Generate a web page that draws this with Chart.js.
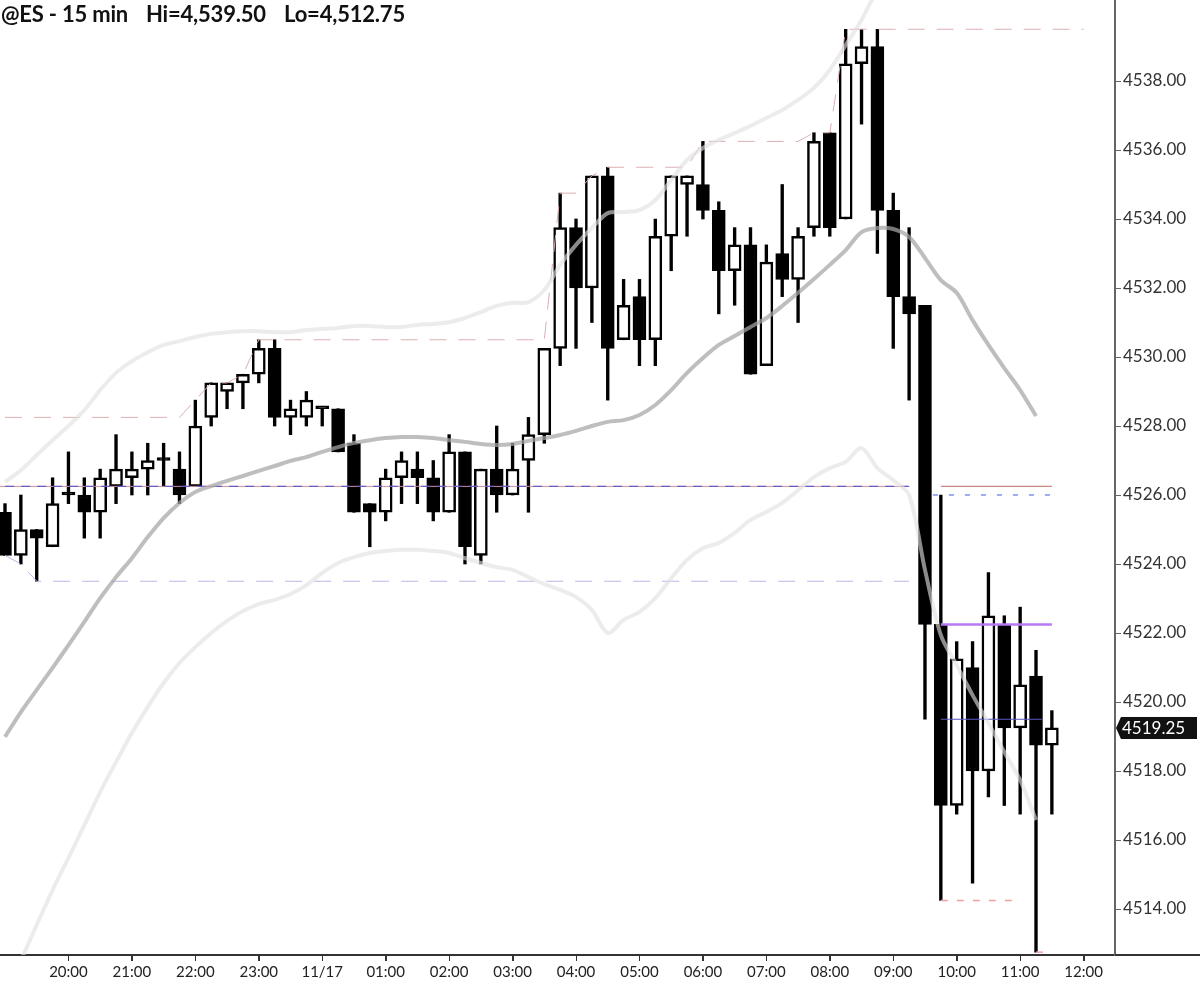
<!DOCTYPE html>
<html><head><meta charset="utf-8">
<script src="https://cdn.jsdelivr.net/npm/chart.js@4.4.0/dist/chart.umd.min.js"></script>
<style>
html,body{margin:0;padding:0;background:#fff;}
#wrap{position:relative;width:1200px;height:986px;overflow:hidden;}
.t{position:absolute;top:0px;font:bold 22px Lato, sans-serif;color:#111;white-space:pre;letter-spacing:-0.2px;}
</style></head><body>
<div id="wrap"><canvas id="c" width="1200" height="986"></canvas>
<div class="t" style="left:1px">@ES - 15 min</div>
<div class="t" style="left:146px">Hi=4,539.50</div>
<div class="t" style="left:284px">Lo=4,512.75</div>
</div>
<script>
// 15-min bars from 19:00 (index 0) to 11:30 (index 66)
const opens  = [4525.5,4524.25,4525.0,4524.5,4526.0,4526.0,4525.5,4526.25,4526.5,4526.75,4527.0,4526.75,4526.25,4528.25,4529.0,4529.25,4529.5,4530.25,4528.25,4528.25,4528.5,4528.5,4527.5,4525.75,4525.5,4526.5,4526.75,4526.5,4525.5,4527.25,4524.25,4526.75,4526.0,4527.0,4527.75,4530.25,4533.75,4532.0,4535.25,4530.5,4531.75,4530.5,4533.5,4535.0,4535.0,4534.25,4532.5,4533.25,4529.75,4533.0,4532.25,4533.75,4536.5,4534.0,4538.5,4539.0,4534.25,4531.75,4531.5,4522.25,4517.0,4521.0,4518.0,4522.25,4519.25,4520.75,4518.75];
const highs  = [4525.75,4526.0,4525.0,4526.5,4527.25,4526.5,4526.75,4527.75,4527.25,4527.5,4527.5,4527.25,4528.75,4529.25,4529.25,4529.5,4530.5,4530.5,4528.75,4529.0,4528.5,4528.5,4527.75,4525.75,4526.75,4527.25,4527.25,4527.0,4527.75,4527.25,4526.75,4528.0,4527.5,4528.25,4530.25,4534.75,4534.0,4535.25,4535.5,4532.25,4532.25,4534.0,4535.25,4535.25,4536.25,4534.5,4533.75,4533.75,4533.25,4535.0,4533.75,4536.5,4536.5,4539.5,4539.5,4539.5,4534.75,4533.75,4531.5,4526.0,4521.75,4521.75,4523.75,4522.5,4522.75,4521.5,4519.75];
const lows   = [4524.25,4524.0,4523.5,4524.5,4525.75,4524.75,4524.75,4525.75,4526.0,4526.0,4526.25,4525.75,4526.25,4528.0,4528.5,4528.5,4529.25,4528.0,4527.75,4528.0,4528.0,4527.25,4525.5,4524.5,4525.25,4525.75,4525.75,4525.25,4525.5,4524.0,4524.0,4525.5,4526.0,4525.5,4527.5,4529.75,4530.25,4531.0,4528.75,4530.5,4529.75,4529.75,4532.5,4533.5,4534.0,4531.25,4531.5,4529.5,4529.75,4531.75,4531.0,4533.5,4533.5,4534.0,4536.75,4533.0,4530.25,4528.75,4519.5,4514.25,4516.75,4514.75,4517.25,4517.0,4516.75,4512.75,4516.75];
const closes = [4524.25,4525.0,4524.75,4525.75,4526.0,4525.5,4526.5,4526.75,4526.75,4527.0,4527.0,4526.0,4528.0,4529.25,4529.25,4529.5,4530.25,4528.25,4528.5,4528.75,4528.5,4527.25,4525.5,4525.5,4526.5,4527.0,4526.5,4525.5,4527.25,4524.5,4526.75,4526.0,4526.75,4527.75,4530.25,4533.75,4532.0,4535.25,4530.25,4531.5,4530.5,4533.5,4535.25,4535.25,4534.25,4532.5,4533.25,4529.5,4532.75,4532.25,4533.5,4536.25,4533.75,4538.5,4539.0,4534.25,4531.75,4531.25,4522.25,4517.0,4521.25,4518.0,4522.5,4519.25,4520.5,4518.75,4519.25];

// Bollinger-style bands
const bandMid   = [4518.99,4519.71,4520.35,4520.99,4521.65,4522.32,4523.01,4523.62,4524.17,4524.78,4525.33,4525.77,4526.09,4526.26,4526.41,4526.55,4526.7,4526.84,4526.99,4527.1,4527.25,4527.39,4527.51,4527.59,4527.65,4527.68,4527.68,4527.65,4527.59,4527.54,4527.48,4527.45,4527.48,4527.57,4527.65,4527.74,4527.86,4528.0,4528.12,4528.17,4528.32,4528.61,4529.04,4529.54,4529.97,4530.35,4530.61,4530.87,4531.13,4531.48,4531.86,4532.26,4532.67,4533.1,4533.62,4533.74,4533.71,4533.48,4532.87,4532.23,4531.86,4531.07,4530.35,4529.68,4529.04,4528.29,null];
const bandUpper = [4526.38,4526.72,4527.16,4527.59,4528.0,4528.46,4529.04,4529.54,4529.88,4530.14,4530.35,4530.46,4530.58,4530.67,4530.72,4530.75,4530.75,4530.72,4530.72,4530.78,4530.81,4530.84,4530.9,4530.9,4530.87,4530.87,4530.93,4530.96,4531.01,4531.13,4531.3,4531.48,4531.57,4531.59,4531.94,4532.67,4533.25,4533.74,4534.17,4534.2,4534.26,4534.55,4535.13,4535.71,4536.06,4536.29,4536.49,4536.7,4536.93,4537.16,4537.45,4537.8,4538.32,4539.04,4539.77,4540.6,4540.9,4541.3,4542.0,4542.8,4543.3,4543.6,4543.8,4543.9,4544.0,4544.3,null];
const bandLower = [4511.65,4512.52,4513.54,4514.55,4515.48,4516.43,4517.39,4518.26,4519.1,4519.86,4520.55,4521.13,4521.59,4522.0,4522.35,4522.64,4522.84,4522.96,4523.13,4523.39,4523.74,4524.03,4524.2,4524.32,4524.38,4524.41,4524.41,4524.38,4524.32,4524.17,4524.03,4523.91,4523.83,4523.62,4523.42,4523.25,4523.04,4522.67,4522.0,4522.38,4522.61,4523.01,4523.59,4524.12,4524.46,4524.61,4524.9,4525.28,4525.51,4525.77,4526.14,4526.52,4526.78,4526.96,4527.36,4526.78,4526.43,4526.0,4523.83,4521.94,4521.07,4520.2,4519.39,4518.55,4517.74,4516.58,null];

// stepped session high / low lines (index 0..)
const runHigh = [4528.25,4528.25,4528.25,4528.25,4528.25,4528.25,4528.25,4528.25,4528.25,4528.25,4528.25,4528.25,4528.75,4529.25,4529.25,4529.5,4530.5,4530.5,4530.5,4530.5,4530.5,4530.5,4530.5,4530.5,4530.5,4530.5,4530.5,4530.5,4530.5,4530.5,4530.5,4530.5,4530.5,4530.5,4530.5,4534.75,4534.75,4535.25,4535.5,4535.5,4535.5,4535.5,4535.5,4535.5,4536.25,4536.25,4536.25,4536.25,4536.25,4536.25,4536.25,4536.5,4536.5,4539.5,4539.5,4539.5,4539.5,4539.5,4539.5,4539.5,4539.5,4539.5,4539.5,4539.5,4539.5,4539.5,4539.5,4539.5,4539.5];
const runLow = [4524.25,4524.0,4523.5,4523.5,4523.5,4523.5,4523.5,4523.5,4523.5,4523.5,4523.5,4523.5,4523.5,4523.5,4523.5,4523.5,4523.5,4523.5,4523.5,4523.5,4523.5,4523.5,4523.5,4523.5,4523.5,4523.5,4523.5,4523.5,4523.5,4523.5,4523.5,4523.5,4523.5,4523.5,4523.5,4523.5,4523.5,4523.5,4523.5,4523.5,4523.5,4523.5,4523.5,4523.5,4523.5,4523.5,4523.5,4523.5,4523.5,4523.5,4523.5,4523.5,4523.5,4523.5,4523.5,4523.5,4523.5,4523.5];

// horizontal levels: [value, startIndex, endIndex]
const levelPrevClose   = [4526.25, -1, 57];
const levelRightRed    = [4526.25, 59, 66];
const levelRightBlue   = [4526.0, 58.5, 66];
const levelPurple      = [4522.25, 59, 66];
const levelLowA        = [4519.5, 59, 65.4];
const levelLowB        = [4514.25, 59, 64];
const levelLowC        = [4512.75, 65, 66];

const tickIdx    = [4,8,12,16,20,24,28,32,36,40,44,48,52,56,60,64,68];
const tickLabels = ['20:00','21:00','22:00','23:00','11/17','01:00','02:00','03:00','04:00','05:00','06:00','07:00','08:00','09:00','10:00','11:00','12:00'];
const yTicks     = [4514,4516,4518,4520,4522,4524,4526,4528,4530,4532,4534,4536,4538];
const lastPrice  = closes[closes.length - 1];

const idx = opens.map((_, i) => i);
const bodyColors = idx.map(i => closes[i] > opens[i] ? '#ffffff' : '#000000');
const seg = (lv) => [{x: lv[1], y: lv[0]}, {x: lv[2], y: lv[0]}];
const series = (arr) => arr.map((v, i) => ({x: i, y: v}));

const lineBase = {type: 'line', pointRadius: 0, fill: false, tension: 0};

const lastLabel = {
  id: 'lastLabel',
  afterDraw(chart) {
    const ctx = chart.ctx;
    const xs = chart.scales.x;
    const y = chart.scales.y.getPixelForValue(lastPrice);
    const x0 = chart.chartArea.right;
    const b = chart.chartArea.bottom;
    ctx.save();
    ctx.strokeStyle = '#333'; ctx.lineWidth = 2;
    ctx.beginPath(); ctx.moveTo(x0, b); ctx.lineTo(1200, b); ctx.stroke();
    // hour tick marks under the time axis
    ctx.lineWidth = 1; ctx.strokeStyle = '#333';
    ctx.beginPath();
    tickIdx.forEach(v => { const px = Math.round(xs.getPixelForValue(v)) + 0.5; ctx.moveTo(px, b); ctx.lineTo(px, b + 6); });
    ctx.stroke();
    ctx.fillStyle = '#111';
    ctx.beginPath();
    ctx.moveTo(x0 + 1, y);
    ctx.lineTo(x0 + 6, y - 11);
    ctx.lineTo(1197, y - 11);
    ctx.lineTo(1197, y + 11);
    ctx.lineTo(x0 + 6, y + 11);
    ctx.closePath(); ctx.fill();
    ctx.fillStyle = '#fff';
    ctx.font = '17px Lato';
    ctx.textBaseline = 'middle';
    ctx.textAlign = 'left';
    ctx.fillText(lastPrice.toFixed(2), x0 + 7, y + 1);
    ctx.restore();
  }
};

new Chart(document.getElementById('c'), {
  type: 'line',
  data: {
    datasets: [
      {...lineBase, label: 'mid', data: series(bandMid), borderColor: 'rgba(165,165,165,0.72)', borderWidth: 4, tension: 0.3, order: 1},
      {...lineBase, label: 'upper', data: series(bandUpper), borderColor: 'rgba(224,224,224,0.62)', borderWidth: 4, tension: 0.3, order: 1},
      {...lineBase, label: 'lower', data: series(bandLower), borderColor: 'rgba(224,224,224,0.62)', borderWidth: 4, tension: 0.3, order: 1},
      {...lineBase, label: 'runHigh', data: series(runHigh), borderColor: '#dcaeb2', borderWidth: 1, borderDash: [17, 12], order: 2},
      {...lineBase, label: 'runLow', data: series(runLow), borderColor: '#b8b8ea', borderWidth: 1, borderDash: [17, 12], order: 2},
      {...lineBase, label: 'prevRed', data: seg(levelPrevClose), borderColor: '#d09090', borderWidth: 1, order: 3},
      {...lineBase, label: 'prevBlue', data: seg(levelPrevClose), borderColor: '#6a5ad0', borderWidth: 1.2, borderDash: [9, 7], order: 2},
      {...lineBase, label: 'rRed', data: seg(levelRightRed), borderColor: '#c58a80', borderWidth: 1.2, order: 2},
      {...lineBase, label: 'rBlue', data: seg(levelRightBlue), borderColor: '#7f8ff0', borderWidth: 1.5, borderDash: [5, 11], order: 2},
      {...lineBase, label: 'purple', data: seg(levelPurple), borderColor: '#b47af6', borderWidth: 2.5, order: 2},
      {...lineBase, label: 'lowA', data: seg(levelLowA), borderColor: '#5a5ac8', borderWidth: 1, order: 2},
      {...lineBase, label: 'lowB', data: seg(levelLowB), borderColor: '#f2a0a0', borderWidth: 1.5, borderDash: [7, 9], order: 2},
      {...lineBase, label: 'lowC', data: seg(levelLowC), borderColor: '#f2a0a0', borderWidth: 1.5, borderDash: [7, 9], order: 2},
      {type: 'bar', label: 'bodies', data: idx.map(i => ({x: i, y: [opens[i], closes[i]]})),
       backgroundColor: bodyColors, borderColor: '#000', borderWidth: 2.5, borderSkipped: false,
       barThickness: 13, grouped: false, minBarLength: 3, order: 5},
      {type: 'bar', label: 'wicks', data: idx.map(i => ({x: i, y: [lows[i], highs[i]]})),
       backgroundColor: '#000', borderWidth: 0, barThickness: 2.7, grouped: false, order: 6}
    ]
  },
  options: {
    responsive: false,
    animation: false,
    layout: {padding: 0},
    plugins: {legend: {display: false}, tooltip: {enabled: false}, title: {display: false}},
    scales: {
      x: {
        type: 'linear', offset: false, min: -0.315, max: 69.98,
        afterBuildTicks: s => { s.ticks = tickIdx.map(v => ({value: v})); },
        afterFit: s => { s.height = 31; s.paddingLeft = 0; s.paddingRight = 0; },
        ticks: {autoSkip: false, maxRotation: 0, padding: 2, color: '#222', font: {family: 'Lato', size: 15},
                callback: v => tickLabels[tickIdx.indexOf(v)] ?? ''},
        grid: {offset: false, drawOnChartArea: false, drawTicks: true, tickLength: 6, color: '#333', lineWidth: 1},
        border: {display: true, color: '#333', width: 2}
      },
      y: {
        type: 'linear', position: 'right', min: 4512.667, max: 4540.348,
        afterBuildTicks: s => { s.ticks = yTicks.map(v => ({value: v})); },
        afterFit: s => { s.width = 85; s.paddingTop = 0; s.paddingBottom = 0; },
        ticks: {padding: 2, color: '#333', font: {family: 'Lato', size: 17}, callback: v => Number(v).toFixed(2)},
        grid: {offset: false, drawOnChartArea: false, drawTicks: true, tickLength: 6, color: '#666', lineWidth: 1},
        border: {display: true, color: '#666', width: 2}
      }
    }
  },
  plugins: [lastLabel]
});
</script>
</body></html>
